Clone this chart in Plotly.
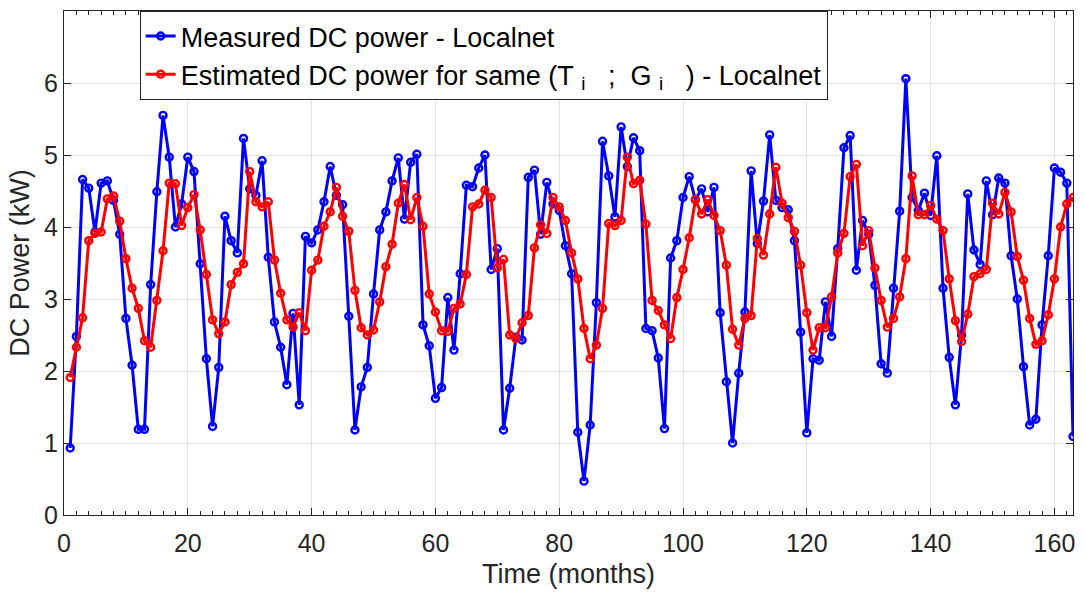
import plotly.graph_objects as go

months = list(range(1, 164))

measured_kw = [
    0.93, 2.48, 4.66, 4.54, 3.93, 4.61, 4.64, 4.37, 3.90, 2.73,
    2.08, 1.19, 1.19, 3.20, 4.49, 5.55, 4.97, 4.00, 4.32, 4.97,
    4.77, 3.49, 2.17, 1.23, 2.05, 4.15, 3.81, 3.64, 5.23, 4.53,
    4.44, 4.92, 3.58, 2.68, 2.33, 1.81, 2.80, 1.53, 3.87, 3.78,
    3.96, 4.35, 4.84, 4.44, 4.31, 2.76, 1.18, 1.78, 2.05, 3.07,
    3.96, 4.21, 4.64, 4.96, 4.11, 4.90, 5.01, 2.64, 2.35, 1.62,
    1.77, 3.02, 2.29, 3.35, 4.58, 4.56, 4.82, 5.00, 3.41, 3.70,
    1.18, 1.76, 2.47, 2.43, 4.69, 4.79, 3.90, 4.62, 4.32, 4.23,
    3.74, 3.35, 1.15, 0.47, 1.25, 2.95, 5.19, 4.71, 4.14, 5.39,
    4.84, 5.24, 5.06, 2.59, 2.56, 2.18, 1.20, 3.57, 3.81, 4.41,
    4.70, 4.38, 4.53, 4.21, 4.55, 2.81, 1.85, 1.00, 1.97, 2.82,
    4.78, 3.77, 4.36, 5.28, 4.37, 4.27, 4.24, 3.81, 2.54, 1.14,
    2.17, 2.15, 2.96, 2.48, 3.70, 5.10, 5.27, 3.40, 4.09, 3.90,
    3.19, 2.10, 1.97, 3.15, 4.22, 6.06, 4.41, 4.23, 4.47, 4.16,
    4.99, 3.15, 2.19, 1.53, 2.50, 4.46, 3.68, 3.48, 4.64, 4.17,
    4.68, 4.61, 3.60, 3.00, 2.06, 1.25, 1.33, 2.64, 3.60, 4.82,
    4.76, 4.61, 1.09,
]

estimated_kw = [
    1.91, 2.33, 2.74, 3.81, 3.91, 3.93, 4.39, 4.43, 4.08, 3.56,
    3.15, 2.87, 2.42, 2.33, 2.98, 3.67, 4.61, 4.60, 4.02, 4.27,
    4.45, 3.96, 3.34, 2.71, 2.52, 2.68, 3.20, 3.37, 3.49, 4.77,
    4.35, 4.28, 4.35, 3.54, 3.08, 2.71, 2.61, 2.81, 2.56, 3.40,
    3.54, 4.01, 4.21, 4.55, 4.15, 3.94, 3.12, 2.60, 2.50, 2.57,
    2.96, 3.45, 3.76, 4.33, 4.59, 4.10, 4.41, 4.01, 3.07, 2.82,
    2.56, 2.55, 2.87, 2.93, 3.34, 4.28, 4.32, 4.51, 4.41, 3.43,
    3.55, 2.50, 2.45, 2.67, 2.77, 3.71, 4.03, 3.91, 4.41, 4.28,
    4.09, 3.64, 3.28, 2.59, 2.17, 2.36, 2.87, 4.05, 4.02, 4.09,
    4.97, 4.60, 4.65, 4.04, 2.98, 2.84, 2.64, 2.45, 3.02, 3.41,
    3.85, 4.38, 4.18, 4.38, 4.16, 3.95, 3.47, 2.58, 2.36, 2.73,
    2.77, 3.84, 3.61, 4.18, 4.83, 4.33, 4.13, 3.94, 3.47, 2.81,
    2.29, 2.60, 2.60, 3.03, 3.64, 3.91, 4.70, 4.87, 3.74, 3.95,
    3.43, 2.98, 2.61, 2.73, 3.03, 3.56, 4.71, 4.17, 4.17, 4.30,
    4.11, 3.95, 3.28, 2.70, 2.41, 2.79, 3.31, 3.35, 3.41, 4.33,
    4.18, 4.48, 4.21, 3.59, 3.26, 2.73, 2.37, 2.42, 2.78, 3.28,
    4.00, 4.32, 4.41,
]

x_ticks = [0, 20, 40, 60, 80, 100, 120, 140, 160]
y_ticks = [0, 1, 2, 3, 4, 5, 6]

FONT = "Liberation Sans, Arial, sans-serif"
TICK_SIZE = 25
TITLE_SIZE = 27
LEGEND_SIZE = 27
NB = "\u00a0"

fig = go.Figure()
fig.add_trace(go.Scatter(
    x=months, y=measured_kw, mode="lines+markers",
    name="Measured DC power - Localnet",
    line=dict(color="#0000FF", width=3),
    marker=dict(symbol="circle-open", size=7, color="#0000FF", line=dict(width=2.4, color="#0000FF")),
))
fig.add_trace(go.Scatter(
    x=months, y=estimated_kw, mode="lines+markers",
    name=("Estimated DC power for same (T" + NB + "<sub>i</sub>" + NB * 3 + ";" + NB * 2
          + "G" + NB + "<sub>i</sub>" + NB * 3 + ") - Localnet"),
    line=dict(color="#FF0000", width=3),
    marker=dict(symbol="circle-open", size=7, color="#FF0000", line=dict(width=2.4, color="#FF0000")),
))

axis_common = dict(
    showline=True, linecolor="#262626", linewidth=1, mirror="ticks",
    ticks="inside", ticklen=7, tickcolor="#262626",
    showgrid=True, gridcolor="#E3E3E3", gridwidth=1,
    zeroline=False,
    tickfont=dict(family=FONT, size=TICK_SIZE, color="#262626"),
)

fig.update_layout(
    width=1085, height=596,
    margin=dict(l=64, r=10, t=10, b=81),
    paper_bgcolor="white", plot_bgcolor="white",
    font=dict(family=FONT, size=TICK_SIZE, color="#262626"),
    xaxis=dict(
        range=[0, 163], tickvals=x_ticks,
        minor=dict(dtick=2, tick0=0, ticks="inside", ticklen=4, tickcolor="#262626", showgrid=False),
        ticklabelstandoff=6,
        title=dict(text="Time (months)", font=dict(family=FONT, size=TITLE_SIZE, color="#262626"), standoff=8),
        **axis_common,
    ),
    yaxis=dict(
        range=[0, 7], tickvals=y_ticks,
        title=dict(text="DC Power (kW)", font=dict(family=FONT, size=TITLE_SIZE, color="#262626"), standoff=6),
        **axis_common,
    ),
    legend=dict(
        x=0.075, y=1.0, xanchor="left", yanchor="top",
        bgcolor="white", bordercolor="#262626", borderwidth=1,
        font=dict(family=FONT, size=LEGEND_SIZE, color="black"),
        tracegroupgap=0,
    ),
    showlegend=True,
)

fig.write_html("out.html")
